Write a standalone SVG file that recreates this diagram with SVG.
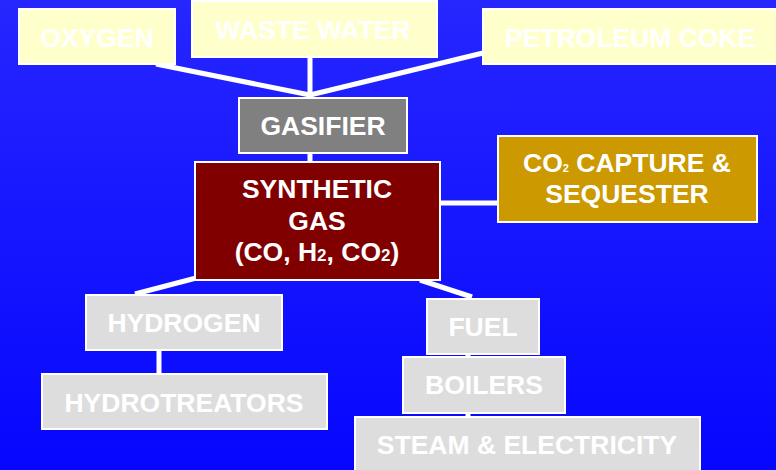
<svg xmlns="http://www.w3.org/2000/svg" width="776" height="470" viewBox="0 0 776 470">
<defs>
<linearGradient id="bg" x1="0" y1="0" x2="0" y2="1">
<stop offset="0" stop-color="#2626ff"/>
<stop offset="1" stop-color="#0606ff"/>
</linearGradient>
<style>
.box{stroke:#ffffff;stroke-width:2}
.yel{fill:#ffffcc}
.gry{fill:#dddddd}
.t{font-family:"Liberation Sans",Arial,sans-serif;font-weight:bold;font-size:26.5px;fill:#ffffff;text-anchor:middle}
.c{stroke:#ffffff;stroke-width:5;fill:none}
</style>
</defs>
<rect width="776" height="470" fill="url(#bg)"/>
<g id="connectors">
<line class="c" x1="156" y1="64" x2="310" y2="95"/>
<line class="c" x1="310" y1="57" x2="310" y2="97"/>
<line class="c" x1="483" y1="53" x2="310" y2="95"/>
<line class="c" x1="310" y1="153" x2="310" y2="162"/>
<line class="c" x1="440" y1="203" x2="499" y2="203"/>
<line class="c" x1="135" y1="294" x2="200" y2="277"/>
<line class="c" x1="420" y1="280" x2="472" y2="297"/>
<line class="c" x1="159" y1="350" x2="159" y2="374"/>
<line class="c" x1="468" y1="354" x2="468" y2="358"/>
<line class="c" x1="468" y1="413" x2="468" y2="418"/>
</g>
<g id="oxygen">
<rect class="box yel" x="19" y="9" width="156" height="55"/>
<text class="t" x="97" y="47">OXYGEN</text>
</g>
<g id="waste-water">
<rect class="box yel" x="192" y="1" width="245" height="56"/>
<text class="t" x="313" y="39">WASTE WATER</text>
</g>
<g id="petroleum-coke">
<rect class="box yel" x="483" y="9" width="295" height="55"/>
<text class="t" x="630" y="47">PETROLEUM COKE</text>
</g>
<g id="gasifier">
<rect class="box" fill="#808080" x="239" y="98" width="168" height="55"/>
<text class="t" x="323" y="135">GASIFIER</text>
</g>
<g id="synthetic-gas">
<rect class="box" fill="#800000" x="195" y="162" width="245" height="118"/>
<text class="t" x="317" y="198">SYNTHETIC</text>
<text class="t" x="317" y="230">GAS</text>
<text class="t" x="317" y="261">(CO, H<tspan font-size="17">2</tspan>, CO<tspan font-size="17">2</tspan>)</text>
</g>
<g id="co2-capture">
<rect class="box" fill="#cc9900" x="498" y="136" width="259" height="86"/>
<text class="t" x="627" y="172">CO<tspan font-size="11">2</tspan> CAPTURE &amp;</text>
<text class="t" x="627" y="203">SEQUESTER</text>
</g>
<g id="hydrogen">
<rect class="box gry" x="86" y="295" width="196" height="55"/>
<text class="t" x="184" y="332">HYDROGEN</text>
</g>
<g id="hydrotreators">
<rect class="box gry" x="42" y="374" width="285" height="55"/>
<text class="t" x="184" y="412">HYDROTREATORS</text>
</g>
<g id="fuel">
<rect class="box gry" x="427" y="299" width="112" height="55"/>
<text class="t" x="483" y="336">FUEL</text>
</g>
<g id="boilers">
<rect class="box gry" x="403" y="357" width="162" height="56"/>
<text class="t" x="484" y="394">BOILERS</text>
</g>
<g id="steam-electricity">
<rect class="box gry" x="355" y="417" width="345" height="60"/>
<text class="t" x="527" y="454">STEAM &amp; ELECTRICITY</text>
</g>
</svg>
